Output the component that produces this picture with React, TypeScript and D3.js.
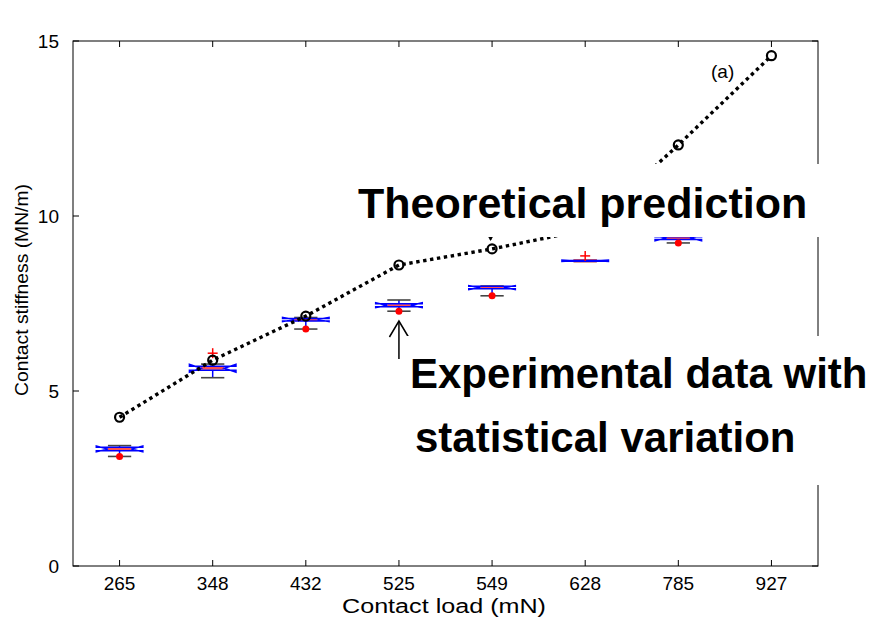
import React from "react";
import * as d3 from "d3";

const categories = ["265", "348", "432", "525", "549", "628", "785", "927"];
const theory = [4.25, 5.88, 7.14, 8.6, 9.06, 9.6, 12.03, 14.58];
const upperCap = [3.44, 5.77, 7.1, 7.6, 8.0, 8.74, 9.43, 10.4];
const notchHi = [3.43, 5.76, 7.1, 7.52, 8.01, 8.74, 9.43, 10.35];
const q3 = [3.39, 5.71, 7.07, 7.49, 7.99, 8.73, 9.41, 10.3];
const median = [3.34, 5.65, 7.04, 7.44, 7.96, 8.72, 9.38, 10.2];
const q1 = [3.29, 5.59, 7.0, 7.41, 7.92, 8.71, 9.33, 10.1];
const notchLo = [3.26, 5.54, 6.98, 7.38, 7.9, 8.7, 9.29, 10.05];
const lowerCap = [3.13, 5.38, 6.77, 7.28, 7.72, 8.7, 9.23, 10.0];
const meanDots: (number | null)[] = [3.13, null, 6.77, 7.28, 7.72, null, 9.23, null];
const outliers: (number | null)[] = [null, 6.08, null, null, null, 8.86, null, null];
const yTicks = [0, 5, 10, 15];

const W = 875;
const H = 625;
const left = 73;
const right = 818;
const top = 41;
const bottom = 566;

export default function App() {
  const x = d3.scaleLinear().domain([0.5, 8.5]).range([left, right]);
  const y = d3.scaleLinear().domain([0, 15]).range([bottom, top]);
  const half = x(1.25) - x(1);
  const inset = half * 0.5;
  const font = "'Liberation Sans', Arial, Helvetica, sans-serif";

  const line = d3
    .line<number>()
    .x((_, i) => x(i + 1))
    .y((d) => y(d));

  const tickLen = 6;

  return (
    <svg
      width={W}
      height={H}
      style={{ position: "absolute", left: 0, top: 0, background: "#fff" }}
      fontFamily={font}
    >
      <rect x={0} y={0} width={W} height={H} fill="#fff" />
      {/* boxes */}
      {categories.map((c, i) => {
        const cx = x(i + 1);
        const L = cx - half;
        const R = cx + half;
        const pts: [number, number][] = [
          [L, y(q3[i])],
          [L, y(notchHi[i])],
          [L + inset, y(median[i])],
          [L, y(notchLo[i])],
          [L, y(q1[i])],
          [R, y(q1[i])],
          [R, y(notchLo[i])],
          [R - inset, y(median[i])],
          [R, y(notchHi[i])],
          [R, y(q3[i])],
        ];
        return (
          <g key={c}>
            <line x1={cx} x2={cx} y1={y(q3[i])} y2={y(upperCap[i])} stroke="#0000ff" strokeWidth={1.5} />
            <line x1={cx} x2={cx} y1={y(q1[i])} y2={y(lowerCap[i])} stroke="#0000ff" strokeWidth={1.5} />
            <line x1={cx - inset} x2={cx + inset} y1={y(upperCap[i])} y2={y(upperCap[i])} stroke="#444" strokeWidth={1.6} />
            <line x1={cx - inset} x2={cx + inset} y1={y(lowerCap[i])} y2={y(lowerCap[i])} stroke="#444" strokeWidth={1.6} />
            <line x1={L + inset} x2={R - inset} y1={y(median[i])} y2={y(median[i])} stroke="#ff5050" strokeWidth={3} />
            <polygon points={pts.map((p) => p.join(",")).join(" ")} fill="none" stroke="#0000ff" strokeWidth={1.5} />
            {meanDots[i] !== null && <circle cx={cx} cy={y(meanDots[i] as number)} r={3.5} fill="#ff0000" />}
            {outliers[i] !== null && (
              <g stroke="#ff0000" strokeWidth={1.5}>
                <line x1={cx - 5} x2={cx + 5} y1={y(outliers[i] as number)} y2={y(outliers[i] as number)} />
                <line x1={cx} x2={cx} y1={y(outliers[i] as number) - 5} y2={y(outliers[i] as number) + 5} />
              </g>
            )}
          </g>
        );
      })}
      {/* theoretical line */}
      <path d={line(theory) || ""} fill="none" stroke="#000" strokeWidth={3.4} strokeDasharray="3.4 3.6" />
      {theory.map((t, i) => (
        <circle key={i} cx={x(i + 1)} cy={y(t)} r={4.5} fill="none" stroke="#000" strokeWidth={2.2} />
      ))}
      {/* axes frame */}
      <rect x={left} y={top} width={right - left} height={bottom - top} fill="none" stroke="#000" strokeWidth={1} />
      {yTicks.map((t) => (
        <g key={t}>
          <line x1={left} x2={left + tickLen} y1={y(t)} y2={y(t)} stroke="#000" />
          <line x1={right} x2={right - tickLen} y1={y(t)} y2={y(t)} stroke="#000" />
          <text x={left - 14} y={y(t) + 7} textAnchor="end" fontSize={19}>
            {t}
          </text>
        </g>
      ))}
      {categories.map((c, i) => (
        <g key={c}>
          <line x1={x(i + 1)} x2={x(i + 1)} y1={bottom} y2={bottom - tickLen} stroke="#000" />
          <line x1={x(i + 1)} x2={x(i + 1)} y1={top} y2={top + tickLen} stroke="#000" />
          <text x={x(i + 1)} y={bottom + 24} textAnchor="middle" fontSize={19}>
            {c}
          </text>
        </g>
      ))}
      <text x={444} y={613} textAnchor="middle" fontSize={20} textLength={204} lengthAdjust="spacingAndGlyphs">
        Contact load (mN)
      </text>
      <text
        transform={`translate(28, 290) rotate(-90)`}
        textAnchor="middle"
        fontSize={19}
        textLength={212}
        lengthAdjust="spacingAndGlyphs"
      >
        Contact stiffness (MN/m)
      </text>
      <text x={711} y={78} fontSize={19}>
        (a)
      </text>
      {/* arrows */}
      <line x1={x(5) - 1.5} x2={x(5) - 1.5} y1={215} y2={240} stroke="#000" strokeWidth={1.5} />
      <path d={`M${x(5) - 5.5},234 L${x(5) + 2.5},234 L${x(5) - 1.5},241 Z`} fill="#000" />
      <line x1={x(4)} x2={x(4)} y1={359} y2={321} stroke="#000" strokeWidth={1.5} />
      <path d={`M${x(4) - 9.5},337 L${x(4)},321 L${x(4) + 9.5},337`} fill="none" stroke="#000" strokeWidth={1.5} />
      {/* annotation boxes */}
      <rect x={350} y={164} width={W - 350} height={73} fill="#fff" />
      <text x={358} y={218} fontSize={43} fontWeight="bold">
        Theoretical prediction
      </text>
      <rect x={402} y={336} width={W - 402} height={149} fill="#fff" />
      <text x={410} y={388} fontSize={42} fontWeight="bold">
        Experimental data with
      </text>
      <text x={415} y={452} fontSize={42} fontWeight="bold">
        statistical variation
      </text>
    </svg>
  );
}
